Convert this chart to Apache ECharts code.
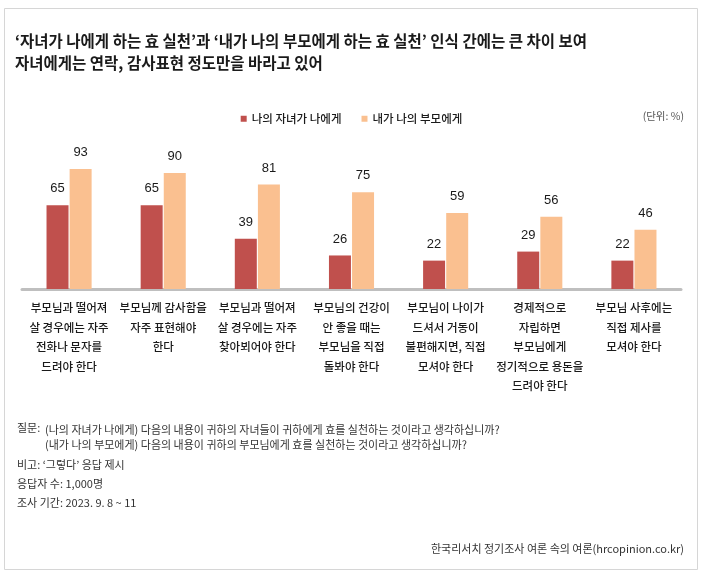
<!DOCTYPE html>
<html>
<head>
<meta charset="utf-8">
<script src="https://cdn.jsdelivr.net/npm/echarts@6/dist/echarts.min.js"></script>
<style>
    html, body { margin: 0; padding: 0; background: #fff; }
    #chart { width: 703px; height: 577px; }
</style>
</head>
<body>
<div id="chart"></div>
<script>
// 항목 (x축 라벨, 줄바꿈 포함)
var categories = [
    '부모님과 떨어져\n살 경우에는 자주\n전화나 문자를\n드려야 한다',
    '부모님께 감사함을\n자주 표현해야\n한다',
    '부모님과 떨어져\n살 경우에는 자주\n찾아뵈어야 한다',
    '부모님의 건강이\n안 좋을 때는\n부모님을 직접\n돌봐야 한다',
    '부모님이 나이가\n드셔서 거동이\n불편해지면, 직접\n모셔야 한다',
    '경제적으로\n자립하면\n부모님에게\n정기적으로 용돈을\n드려야 한다',
    '부모님 사후에는\n직접 제사를\n모셔야 한다'
];
var seriesNames = ['나의 자녀가 나에게', '내가 나의 부모에게'];
var childToMe = [65, 65, 39, 26, 22, 29, 22];
var meToParent = [93, 90, 81, 75, 59, 56, 46];

var FONT = '"Noto Sans CJK KR", "Noto Sans", sans-serif';

var myChart = echarts.init(document.getElementById('chart'), null, {renderer: 'canvas'});

function barSeries(name, data, color) {
    return {
        name: name,
        type: 'bar',
        data: data,
        barWidth: 22,
        barGap: '5%',
        itemStyle: {color: color},
        label: {
            show: true,
            position: 'top',
            distance: 10,
            color: '#1a1a1a',
            fontSize: 13,
            fontFamily: 'Liberation Sans, Arial, sans-serif'
        }
    };
}

myChart.setOption({
    backgroundColor: '#fff',
    animation: false,
    color: ['#c0504d', '#fac090'],
    title: {
        text: '‘자녀가 나에게 하는 효 실천’과 ‘내가 나의 부모에게 하는 효 실천’ 인식 간에는 큰 차이 보여\n자녀에게는 연락, 감사표현 정도만을 바라고 있어',
        left: 15,
        top: 30,
        padding: 0,
        textStyle: {
            fontFamily: FONT,
            fontSize: 15.5,
            fontWeight: 'bold',
            color: '#1a1a1a',
            lineHeight: 22
        }
    },
    legend: {
        data: seriesNames,
        left: 'center',
        top: 108,
        icon: 'rect',
        itemWidth: 6,
        itemHeight: 6,
        itemGap: 20,
        textStyle: {
            fontFamily: FONT,
            fontSize: 11.5,
            fontWeight: 500,
            color: '#1a1a1a'
        }
    },
    grid: {
        left: 22,
        right: 22,
        top: 160,
        bottom: 288,
        containLabel: false
    },
    xAxis: {
        type: 'category',
        data: categories,
        axisTick: {show: false},
        axisLine: {lineStyle: {color: '#bfbfbf', width: 3}},
        axisLabel: {
            interval: 0,
            margin: 9,
            fontFamily: FONT,
            fontSize: 11.5,
            fontWeight: 500,
            lineHeight: 19.5,
            color: '#1a1a1a'
        }
    },
    yAxis: {
        type: 'value',
        min: 0,
        max: 100,
        show: false,
        splitLine: {show: false}
    },
    series: [
        barSeries(seriesNames[0], childToMe, '#c0504d'),
        barSeries(seriesNames[1], meToParent, '#fac090')
    ],
    graphic: [
        {
            type: 'rect',
            shape: {x: 4.5, y: 8.5, width: 693, height: 561},
            style: {fill: 'none', stroke: '#d6d6d6', lineWidth: 1},
            silent: true,
            z: -1
        },
        {
            type: 'text',
            right: 19,
            top: 111,
            style: {text: '(단위: %)', font: '10.5px ' + FONT, fill: '#555'}
        },
        {
            type: 'text',
            left: 17,
            top: 422,
            style: {text: '질문:', font: '11px ' + FONT, fill: '#333'}
        },
        {
            type: 'text',
            left: 45,
            top: 422,
            style: {
                text: '(나의 자녀가 나에게) 다음의 내용이 귀하의 자녀들이 귀하에게 효를 실천하는 것이라고 생각하십니까?\n(내가 나의 부모에게) 다음의 내용이 귀하의 부모님에게 효를 실천하는 것이라고 생각하십니까?',
                font: '11px ' + FONT,
                lineHeight: 15,
                fill: '#333'
            }
        },
        {
            type: 'text',
            left: 17,
            top: 459,
            style: {text: '비고: ‘그렇다’ 응답 제시', font: '11px ' + FONT, fill: '#333'}
        },
        {
            type: 'text',
            left: 17,
            top: 478,
            style: {text: '응답자 수: 1,000명', font: '11px ' + FONT, fill: '#333'}
        },
        {
            type: 'text',
            left: 17,
            top: 497,
            style: {text: '조사 기간: 2023. 9. 8 ~ 11', font: '11px ' + FONT, fill: '#333'}
        },
        {
            type: 'text',
            right: 19,
            top: 543,
            style: {text: '한국리서치 정기조사 여론 속의 여론(hrcopinion.co.kr)', font: '11px ' + FONT, fill: '#333'}
        }
    ]
});
</script>
</body>
</html>
